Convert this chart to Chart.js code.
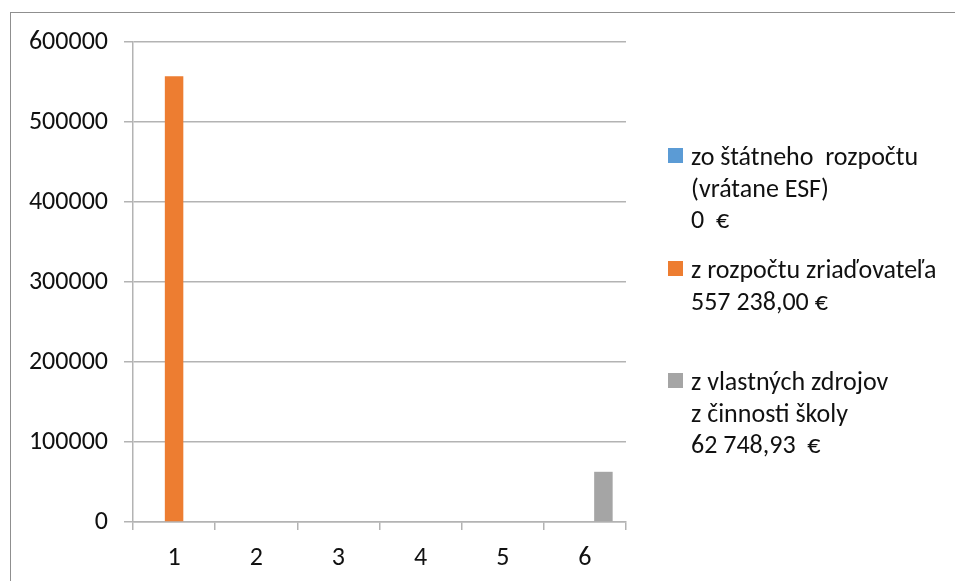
<!DOCTYPE html>
<html>
<head>
<meta charset="utf-8">
<script src="https://cdn.jsdelivr.net/npm/chart.js@4/dist/chart.umd.min.js"></script>
<style>
  html, body { margin: 0; padding: 0; background: #fff; }
  #wrap { position: absolute; left: 0; top: 0; width: 955px; height: 581px; overflow: hidden; }
  #frame { position: absolute; left: 10px; top: 12px; width: 1000px; height: 700px; border: 1px solid #8f8f8f; box-sizing: border-box; }
  #box { position: absolute; left: 0; top: 0; width: 955px; height: 581px; }
  .leg { position: absolute; left: 691px; font-family: Carlito, Calibri, Lato, sans-serif; font-size: 26px; line-height: 31.5px; color: #111; white-space: pre; }
  .sw { position: absolute; left: 668px; width: 15px; height: 15px; }
</style>
</head>
<body>
<div id="wrap">
  <div id="frame"></div>
  <div id="box"><canvas id="c"></canvas></div>
  <div id="legend"></div>
</div>
<script>
// ---- data ----
const categories = ['1', '2', '3', '4', '5', '6'];
const zoStatnehoRozpoctu = [0, 0, 0, 0, 0, 0];
const zRozpoctuZriadovatela = [557238.00, 0, 0, 0, 0, 0];
const zVlastnychZdrojov = [0, 0, 0, 0, 0, 62748.93];
const yTicks = [0, 100000, 200000, 300000, 400000, 500000, 600000];
const seriesNames = [
  ['zo štátneho  rozpočtu', '(vrátane ESF)', '0  €'],
  ['z rozpočtu zriaďovateľa', '557 238,00 €'],
  ['z vlastných zdrojov', 'z činnosti školy', '62 748,93  €']
];
const seriesColors = ['#5B9BD5', '#ED7D31', '#A5A5A5'];
const legendTops = [141, 254, 366];

const FONT = 'Carlito, Calibri, Lato, sans-serif';
const gridColor = '#b3b3b3';

new Chart(document.getElementById('c'), {
  type: 'bar',
  data: {
    labels: categories,
    datasets: [
      { label: seriesNames[0].join(' '), data: zoStatnehoRozpoctu, backgroundColor: seriesColors[0] },
      { label: seriesNames[1].join(' '), data: zRozpoctuZriadovatela, backgroundColor: seriesColors[1] },
      { label: seriesNames[2].join(' '), data: zVlastnychZdrojov, backgroundColor: seriesColors[2] }
    ]
  },
  options: {
    responsive: true,
    maintainAspectRatio: false,
    animation: false,
    layout: { padding: { left: 0, top: 42, right: 329, bottom: 0 } },
    datasets: { bar: { categoryPercentage: 0.675, barPercentage: 1.0 } },
    plugins: { legend: { display: false }, tooltip: { enabled: false } },
    scales: {
      x: {
        afterFit: s => { s.height = 59; },
        grid: { offset: true, drawOnChartArea: false, drawTicks: true, tickLength: 8, color: gridColor, lineWidth: 1.5 },
        border: { color: gridColor, width: 1.5 },
        ticks: { font: { family: FONT, size: 26 }, color: '#111', padding: 13 }
      },
      y: {
        min: yTicks[0],
        max: yTicks[yTicks.length - 1],
        afterFit: s => { s.width = 133; },
        afterBuildTicks: s => { s.ticks = yTicks.map(v => ({ value: v })); },
        grid: { color: gridColor, lineWidth: 1.5, tickLength: 9, drawTicks: true },
        border: { color: gridColor, width: 1.5 },
        ticks: { font: { family: FONT, size: 26 }, color: '#111', padding: 16, callback: v => String(v) }
      }
    }
  }
});

// ---- legend (HTML, real text) ----
const leg = document.getElementById('legend');
seriesNames.forEach((lines, i) => {
  const sw = document.createElement('div');
  sw.className = 'sw';
  sw.style.top = (legendTops[i] + 15.75 - 8.5) + 'px';
  sw.style.background = seriesColors[i];
  leg.appendChild(sw);
  const t = document.createElement('div');
  t.className = 'leg';
  t.style.top = legendTops[i] + 'px';
  t.textContent = lines.join('\n');
  leg.appendChild(t);
});
</script>
</body>
</html>
